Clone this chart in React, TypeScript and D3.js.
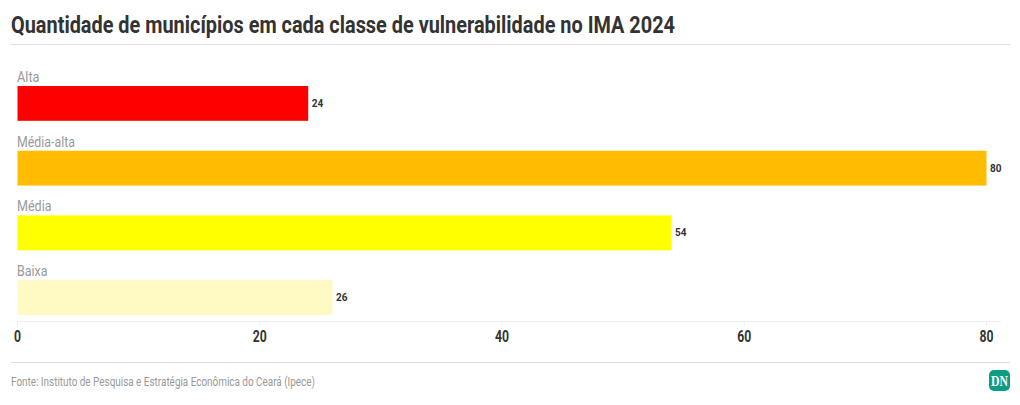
import React from "react";
import * as d3 from "d3";

const categories = ["Alta", "Média-alta", "Média", "Baixa"];
const values = [24, 80, 54, 26];
const colors = ["#ff0000", "#ffbc00", "#ffff00", "#fff9c4"];
const labelWidths = [22.5, 58, 34.5, 30.5];
const ticks = [0, 20, 40, 60, 80];
const title = "Quantidade de municípios em cada classe de vulnerabilidade no IMA 2024";
const source = "Fonte: Instituto de Pesquisa e Estratégia Econômica do Ceará (Ipece)";

const W = 1020;
const H = 405;

export default function App() {
  const x = d3.scaleLinear().domain([0, 80]).range([17.5, 986.5]);
  const y = d3.scaleBand<string>().domain(categories).range([86, 315]).paddingInner(0.462).paddingOuter(0);
  const bh = y.bandwidth();
  const font = "'Roboto', sans-serif";
  return (
    <svg
      width={W}
      height={H}
      viewBox={`0 0 ${W} ${H}`}
      style={{ position: "absolute", left: 0, top: 0, background: "#fff", fontFamily: font }}
    >
      <text x={11} y={33} fontSize={24.5} fontWeight={700} fill="#333" textLength={664} lengthAdjust="spacingAndGlyphs">
        {title}
      </text>
      <line x1={11} x2={1010} y1={44.5} y2={44.5} stroke="#dddddd" />

      {ticks.map((t) => (
        <g key={t}>
          <line x1={x(t)} x2={x(t)} y1={321.5} y2={327} stroke="#eeeeee" />
          <text
            x={x(t)}
            y={342}
            fontSize={16}
            fontWeight={700}
            fill="#333"
            textAnchor="middle"
            textLength={t === 0 ? 7 : 14}
            lengthAdjust="spacingAndGlyphs"
          >
            {t}
          </text>
        </g>
      ))}
      <line x1={17} x2={1001} y1={321.5} y2={321.5} stroke="#eeeeee" />

      {categories.map((c, i) => (
        <g key={c}>
          <text
            x={17}
            y={(y(c) as number) - 4}
            fontSize={15}
            fill="#999"
            textLength={labelWidths[i]}
            lengthAdjust="spacingAndGlyphs"
          >
            {c}
          </text>
          <rect x={x(0)} y={y(c)} width={x(values[i]) - x(0)} height={bh} fill={colors[i]} />
          <text
            x={x(values[i]) + 3.5}
            y={(y(c) as number) + 21}
            fontSize={11}
            fontWeight={700}
            fill="#333"
            textLength={11.5}
            lengthAdjust="spacingAndGlyphs"
          >
            {values[i]}
          </text>
        </g>
      ))}

      <line x1={11} x2={1010} y1={362.5} y2={362.5} stroke="#dddddd" />
      <text x={11} y={386} fontSize={12.5} fill="#999" textLength={304} lengthAdjust="spacingAndGlyphs">
        {source}
      </text>

      <rect x={989} y={370} width={21} height={21} rx={5} fill="#0c9d84" />
      <text x={999.5} y={386} fontSize={15} fontWeight={700} fontFamily="'Liberation Serif', serif" fill="#fff" textAnchor="middle" textLength={17} lengthAdjust="spacingAndGlyphs">
        DN
      </text>
    </svg>
  );
}
